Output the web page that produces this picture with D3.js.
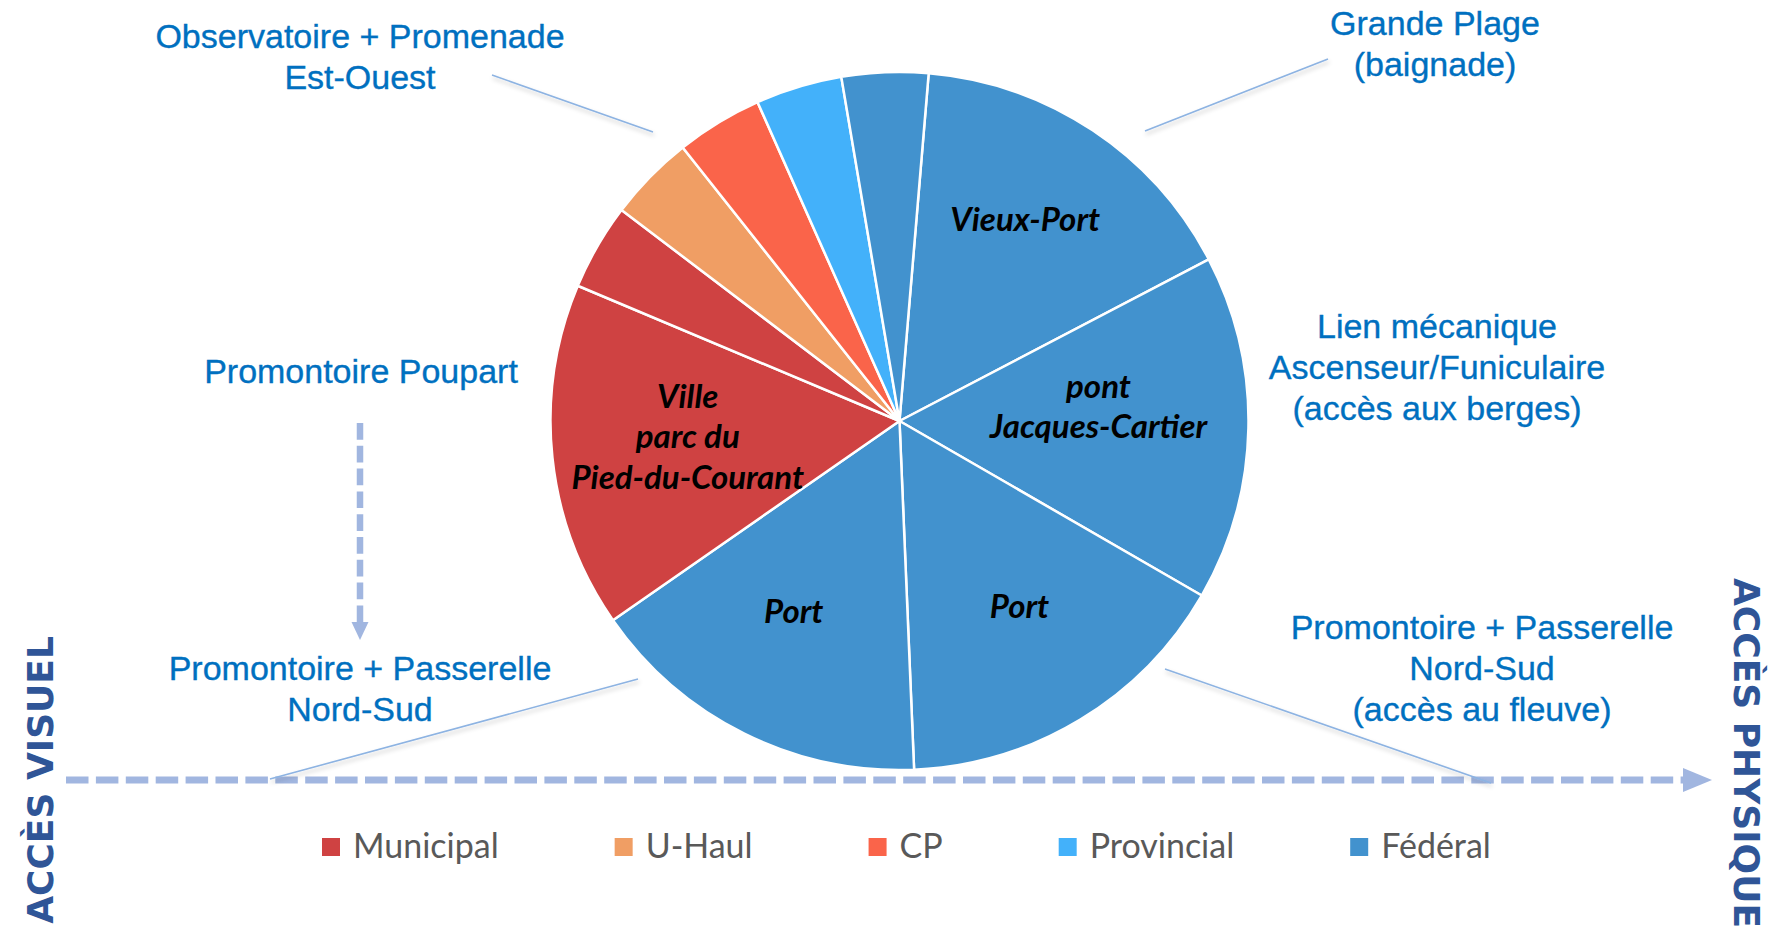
<!DOCTYPE html>
<html lang="fr">
<head>
<meta charset="utf-8">
<title>Accès visuel / accès physique</title>
<script src="https://cdn.jsdelivr.net/npm/d3@7"></script>
<style>
  html, body { margin: 0; padding: 0; background: #fff; }
  svg { display: block; }
</style>
</head>
<body>
<svg id="chart"></svg>
<script>
const W = 1788, H = 933;

// slices, clockwise starting just past 12 o'clock
const sliceNames = [["Vieux-Port"], ["pont", "Jacques-Cartier"], ["Port"], ["Port"], ["Ville", "parc du", "Pied-du-Courant"], [], [], [], [], []];
const sliceOwners = ["Fédéral", "Fédéral", "Fédéral", "Fédéral", "Municipal", "Municipal", "U-Haul", "CP", "Provincial", "Fédéral"];
const sliceValues = [4, 4, 4, 4, 4, 1, 1, 1, 1, 1];

const owners = ["Municipal", "U-Haul", "CP", "Provincial", "Fédéral"];
const ownerColors = ["#CF4242", "#F09E64", "#FA644A", "#43B1FA", "#4292CE"];

// callouts around the pie
const noteLines = [
  ["Observatoire + Promenade", "Est-Ouest"],
  ["Grande Plage", "(baignade)"],
  ["Lien mécanique", "Ascenseur/Funiculaire", "(accès aux berges)"],
  ["Promontoire Poupart"],
  ["Promontoire + Passerelle", "Nord-Sud"],
  ["Promontoire + Passerelle", "Nord-Sud", "(accès au fleuve)"]
];
const noteAnchors = [[360, 48], [1435, 35], [1437, 338], [361, 383], [360, 680], [1482, 639]];

const leaders = [
  [[492, 75], [653, 132]],
  [[1328, 59], [1145, 131]],
  [[638, 679], [270, 779]],
  [[1165, 669], [1491, 783]]
];
const underlines = [
  [[196, 407], [523, 407]],
  [[1271, 395], [1623, 395]]
];

const axisLabels = ["ACCÈS VISUEL", "ACCÈS PHYSIQUE"];

const cx = 899.5, cy = 421, radius = 349;
const startDeg = 4.8;
const labelRadius = 220;
const labelShift = [[4, -18], [-21, -19], [6, -2], [-8, -6], [7, -7]];

const svg = d3.select('#chart').attr('width', W).attr('height', H);
svg.append('rect').attr('width', W).attr('height', H).attr('fill', '#fff');

const defs = svg.append('defs');
const shadow = defs.append('filter').attr('id', 'shadow')
  .attr('x', '-20%').attr('y', '-50%').attr('width', '140%').attr('height', '300%');
shadow.append('feDropShadow').attr('dx', 1).attr('dy', 3).attr('stdDeviation', 2)
  .attr('flood-color', '#000').attr('flood-opacity', 0.22);

const color = d3.scaleOrdinal().domain(owners).range(ownerColors);

// ---- pie ----
const start = startDeg * Math.PI / 180;
const pie = d3.pie().sort(null).value(d => d).startAngle(start).endAngle(start + 2 * Math.PI);
const arcs = pie(sliceValues);
const arc = d3.arc().innerRadius(0).outerRadius(radius);
const labelArc = d3.arc().innerRadius(labelRadius).outerRadius(labelRadius);

const g = svg.append('g').attr('transform', `translate(${cx},${cy})`);
g.selectAll('path.slice')
  .data(arcs)
  .join('path')
  .attr('class', 'slice')
  .attr('d', arc)
  .attr('fill', (d, i) => color(sliceOwners[i]))
  .attr('stroke', '#fff')
  .attr('stroke-width', 2.5)
  .attr('stroke-linejoin', 'round');

const sliceFont = 33, sliceLine = 40.5;
arcs.forEach((a, i) => {
  const lines = sliceNames[i];
  if (!lines.length) return;
  const [px, py] = labelArc.centroid(a);
  const [sx, sy] = labelShift[i] || [0, 0];
  const top = py + sy - (lines.length - 1) * sliceLine / 2 + sliceFont * 0.34;
  const t = g.append('text')
    .attr('text-anchor', 'middle')
    .attr('font-family', 'Lato, "Open Sans", sans-serif')
    .attr('font-style', 'italic')
    .attr('font-weight', 700)
    .attr('font-size', sliceFont)
    .attr('fill', '#000');
  lines.forEach((s, j) => {
    t.append('tspan').attr('x', px + sx).attr('y', top + j * sliceLine).text(s);
  });
});

// ---- dashed arrows ----
const dashColor = '#A1B6E0';
svg.append('line')
  .attr('x1', 66).attr('x2', 1683).attr('y1', 780).attr('y2', 780)
  .attr('stroke', dashColor).attr('stroke-width', 7)
  .attr('stroke-dasharray', '22.5 7.4');
svg.append('path')
  .attr('d', d3.line()([[1683, 768], [1712, 780], [1683, 792]]) + 'Z')
  .attr('fill', dashColor);

svg.append('line')
  .attr('x1', 360).attr('x2', 360).attr('y1', 423).attr('y2', 622)
  .attr('stroke', dashColor).attr('stroke-width', 6.5)
  .attr('stroke-dasharray', '16.7 6.1');
svg.append('path')
  .attr('d', d3.line()([[351.5, 622], [368.5, 622], [360, 640]]) + 'Z')
  .attr('fill', dashColor);

// ---- leader lines and underlines ----
svg.append('g').selectAll('line')
  .data(leaders)
  .join('line')
  .attr('x1', d => d[0][0]).attr('y1', d => d[0][1])
  .attr('x2', d => d[1][0]).attr('y2', d => d[1][1])
  .attr('stroke', '#8DB3E2').attr('stroke-width', 1.6)
  .attr('filter', 'url(#shadow)');

svg.append('g').selectAll('line')
  .data(underlines)
  .join('line')
  .attr('x1', d => d[0][0]).attr('y1', d => d[0][1])
  .attr('x2', d => d[1][0]).attr('y2', d => d[1][1])
  .attr('stroke', '#9FB2CE').attr('stroke-width', 2.2)
  .attr('filter', 'url(#shadow)');

// ---- callout texts ----
const noteFont = 34, noteLine = 41;
noteLines.forEach((lines, i) => {
  const [x, y] = noteAnchors[i];
  const t = svg.append('text')
    .attr('text-anchor', 'middle')
    .attr('font-family', '"Liberation Sans", Arial, sans-serif')
    .attr('font-size', noteFont)
    .attr('fill', '#0070C0')
    .attr('stroke', '#0070C0').attr('stroke-width', 0.35);
  lines.forEach((s, j) => t.append('tspan').attr('x', x).attr('y', y + j * noteLine).text(s));
});

// ---- side titles ----
svg.append('text')
  .attr('transform', 'translate(53,780) rotate(-90)')
  .attr('text-anchor', 'middle')
  .attr('font-family', '"DejaVu Sans", Verdana, sans-serif')
  .attr('font-weight', 700)
  .attr('font-size', 36)
  .attr('fill', '#2F5597')
  .text(axisLabels[0]);

svg.append('text')
  .attr('transform', 'translate(1734,753) rotate(90)')
  .attr('text-anchor', 'middle')
  .attr('font-family', '"DejaVu Sans", Verdana, sans-serif')
  .attr('font-weight', 700)
  .attr('font-size', 36)
  .attr('fill', '#2F5597')
  .text(axisLabels[1]);

// ---- legend ----
const legend = svg.append('g').attr('class', 'legend');
const items = legend.selectAll('g').data(owners).join('g');
items.append('rect')
  .attr('width', 18).attr('height', 18)
  .attr('y', 838)
  .attr('fill', d => color(d));
const legendText = items.append('text')
  .attr('y', 858)
  .attr('font-family', 'Lato, "Open Sans", sans-serif')
  .attr('font-size', 36)
  .attr('fill', '#595959')
  .text(d => d);

// fit the font so the labels take the same room as in the source
let total = 0;
legendText.each(function() { total += this.getComputedTextLength(); });
legendText.attr('font-size', 36 * 550 / total);

let lx = 322;
items.each(function() {
  const it = d3.select(this);
  it.select('rect').attr('x', lx);
  const txt = it.select('text').attr('x', lx + 31);
  lx += 31 + txt.node().getComputedTextLength() + 116;
});
</script>
</body>
</html>
